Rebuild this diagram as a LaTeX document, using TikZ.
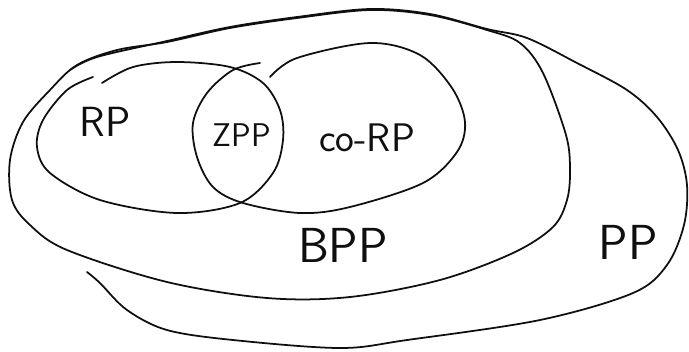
\documentclass[tikz,border=0pt]{standalone}
\usepackage{fontspec}
\usetikzlibrary{positioning}
\definecolor{ink}{RGB}{15,15,15}
\tikzset{
  stroke/.style={draw=ink,line width=1.5pt,line cap=round,line join=round},
  cls/.style={font=\sffamily\fontsize{#1}{#1}\selectfont,text=ink,inner sep=0pt},
  cls/.default=40,
}

\begin{document}
\begin{tikzpicture}[x=0.03cm,y=-0.03cm]
  \useasboundingbox (0,0) rectangle (689,351);
  % BPP
  \draw[stroke] plot[smooth cycle,tension=0.55] coordinates {(77,65) (50,90) (23,122) (10,160)
    (12,200) (30,225) (67,250) (167,282) (267,298) (350,297) (440,280) (513,253) (553,227)
    (567,200) (570,170) (566,135) (543,73) (520,43) (487,30) (430,15) (370,10) (297,18)
    (230,28) (167,42) (117,50)};
  % PP
  \draw[stroke] plot[smooth,tension=0.55] coordinates {(70,70) (97,57) (167,41) (230,27) (297,17)
    (370,9) (430,14) (487,29) (527,38) (577,63) (627,90) (657,117) (678,150) (687,185)
    (684,225) (667,265) (633,293) (540,320) (407,340) (340,348) (233,340) (167,330) (127,310)
    (100,283) (87,272)};
  % RP
  \draw[stroke] plot[smooth,tension=0.55] coordinates {(93,77) (67,90) (43,120) (37,147) (50,173)
    (100,200) (177,213) (240,203) (273,173) (283,140) (280,110) (263,83) (230,67) (177,62)
    (133,67) (102,83)};
  % co-RP
  \draw[stroke] plot[smooth,tension=0.55] coordinates {(260,63) (233,70) (207,93) (193,123) (197,157)
    (213,187) (243,203) (300,213) (350,207) (423,183) (457,152) (465,122) (452,88)
    (420,55) (370,43) (297,58) (270,77)};

  \node[cls=36] (rp) at (105,122) {RP};
  \node[cls=28] (zpp) at (242,135) {ZPP};
  \node[cls=34] (corp) at (367,138) {co-RP};
  \node[cls=42] (bpp) at (343,245) {BPP};
  \node[cls=42] (pp) at (628,242) {PP};
\end{tikzpicture}
\end{document}
